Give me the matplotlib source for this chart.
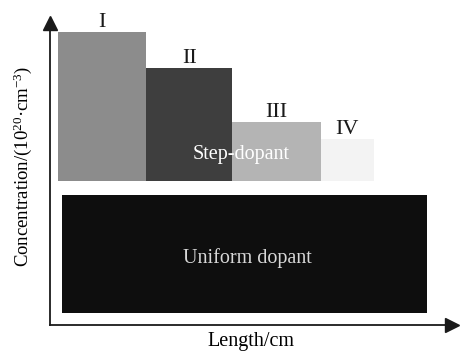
import matplotlib
matplotlib.use("Agg")
import matplotlib.pyplot as plt

plt.rcParams['font.family'] = ['Liberation Serif', 'DejaVu Serif']
plt.rcParams['mathtext.fontset'] = 'custom'
plt.rcParams['mathtext.rm'] = 'Liberation Serif'
plt.rcParams['mathtext.it'] = 'Liberation Serif:italic'

# Step-doped segments along the length (edges) and their concentrations
step_labels = ["I", "II", "III", "IV"]
step_edges = [0.2, 2.35, 4.45, 6.6, 7.9]
step_tops = [9.45, 8.3, 6.55, 6.0]
step_base = 4.65
step_colors = ["#8c8c8c", "#3e3e3e", "#b4b4b4", "#f3f3f3"]

# Uniformly doped block
uniform_span = [0.3, 9.2]
uniform_range = [0.4, 4.2]

fig = plt.figure(figsize=(4.63, 3.51), dpi=100)
ax = fig.add_axes([50 / 463, 26 / 351, 402 / 463, 302 / 351])
ax.set_xlim(0, 402 / 41.0)
ax.set_ylim(0, 302 / 31.0)

lefts = step_edges[:-1]
widths = [b - a for a, b in zip(step_edges[:-1], step_edges[1:])]
heights = [t - step_base for t in step_tops]
ax.bar(lefts, heights, width=widths, bottom=step_base, align='edge',
       color=step_colors, edgecolor='none')

for lab, l, w, t in zip(step_labels, lefts, widths, step_tops):
    ax.text(l + w / 2, t + 0.16, lab, ha='center', va='baseline', fontsize=16,
            color='#1a1a1a')

ax.text(4.66, (step_base + 6.55) / 2 - 0.1, "Step-dopant", ha='center',
        va='center', fontsize=14.5, color='white')

ax.bar(uniform_span[0], uniform_range[1] - uniform_range[0],
       width=uniform_span[1] - uniform_span[0], bottom=uniform_range[0],
       align='edge', color='#0e0e0e', edgecolor='none')
ax.text((uniform_span[0] + uniform_span[1]) / 2 + 0.07, 2.15, "Uniform dopant",
        ha='center', va='center', fontsize=14.5, color='#d8d8d8')

for side in ('top', 'right'):
    ax.spines[side].set_visible(False)
for side in ('left', 'bottom'):
    ax.spines[side].set_linewidth(1.3)
    ax.spines[side].set_color('#1a1a1a')
ax.set_xticks([])
ax.set_yticks([])
ax.plot(1, 0, '>', color='#1a1a1a', markersize=10,
        transform=ax.transAxes, clip_on=False)
ax.plot(0, 1, '^', color='#1a1a1a', markersize=10,
        transform=ax.transAxes, clip_on=False)

ax.set_xlabel("Length/cm", fontsize=14.5, labelpad=5)
fig.text(23 / 463, 1 - 166 / 351, r"Concentration/(10$^{20}$·cm$^{-3}$)",
         rotation=90, ha='center', va='center', fontsize=13.5)

fig.savefig("out.png", dpi=100)
